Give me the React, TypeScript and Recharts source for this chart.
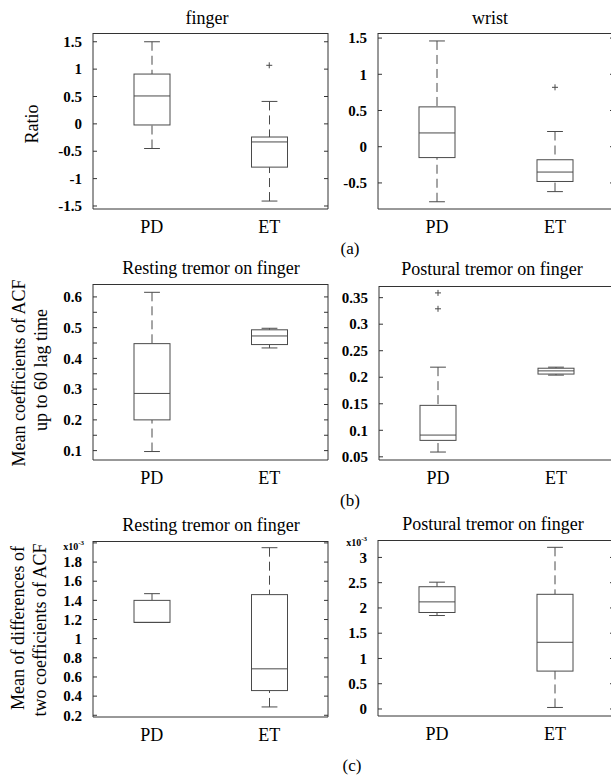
import React from 'react';
import { ComposedChart, Bar, Scatter, XAxis, YAxis } from 'recharts';

const categories = ['PD', 'ET'];

// (a) Ratio – finger
const fingerMin = [-0.45, -1.41];
const fingerQ1 = [-0.02, -0.79];
const fingerMedian = [0.51, -0.33];
const fingerQ3 = [0.91, -0.24];
const fingerMax = [1.5, 0.41];
const fingerOutliers = [{ cat: 'ET', value: 1.07 }];
const fingerTicks = [-1.5, -1, -0.5, 0, 0.5, 1, 1.5];

// (a) Ratio – wrist
const wristMin = [-0.76, -0.62];
const wristQ1 = [-0.15, -0.48];
const wristMedian = [0.19, -0.35];
const wristQ3 = [0.55, -0.18];
const wristMax = [1.46, 0.21];
const wristOutliers = [{ cat: 'ET', value: 0.82 }];
const wristTicks = [-0.5, 0, 0.5, 1, 1.5];

// (b) Mean coefficients of ACF – resting
const acfRestMin = [0.097, 0.434];
const acfRestQ1 = [0.2, 0.445];
const acfRestMedian = [0.286, 0.473];
const acfRestQ3 = [0.448, 0.493];
const acfRestMax = [0.615, 0.498];
const acfRestOutliers: { cat: string; value: number }[] = [];
const acfRestTicks = [0.1, 0.15, 0.2, 0.25, 0.3, 0.35, 0.4, 0.45, 0.5, 0.55, 0.6];
const acfRestLabels = [0.1, 0.2, 0.3, 0.4, 0.5, 0.6];

// (b) Mean coefficients of ACF – postural
const acfPostMin = [0.059, 0.204];
const acfPostQ1 = [0.081, 0.206];
const acfPostMedian = [0.091, 0.212];
const acfPostQ3 = [0.147, 0.217];
const acfPostMax = [0.219, 0.219];
const acfPostOutliers = [
  { cat: 'PD', value: 0.359 },
  { cat: 'PD', value: 0.329 },
];
const acfPostTicks = [0.05, 0.1, 0.15, 0.2, 0.25, 0.3, 0.35];

// (c) Mean of differences (x10^-3) – resting
const diffRestMin = [1.17, 0.287];
const diffRestQ1 = [1.17, 0.458];
const diffRestMedian = [1.17, 0.685];
const diffRestQ3 = [1.4, 1.46];
const diffRestMax = [1.47, 1.95];
const diffRestOutliers: { cat: string; value: number }[] = [];
const diffRestTicks = [0.2, 0.4, 0.6, 0.8, 1, 1.2, 1.4, 1.6, 1.8, 2];
const diffRestLabels = [0.2, 0.4, 0.6, 0.8, 1, 1.2, 1.4, 1.6, 1.8];

// (c) Mean of differences (x10^-3) – postural
const diffPostMin = [1.85, 0.03];
const diffPostQ1 = [1.91, 0.75];
const diffPostMedian = [2.12, 1.32];
const diffPostQ3 = [2.42, 2.27];
const diffPostMax = [2.51, 3.2];
const diffPostOutliers: { cat: string; value: number }[] = [];
const diffPostTicks = [0, 0.5, 1, 1.5, 2, 2.5, 3];

type BoxRow = { cat: string; min: number; q1: number; median: number; q3: number; max: number };

function makeBoxes(mn: number[], q1: number[], md: number[], q3: number[], mx: number[]): BoxRow[] {
  return categories.map((cat, i) => ({ cat, min: mn[i], q1: q1[i], median: md[i], q3: q3[i], max: mx[i] }));
}

const SERIF = "'Liberation Serif', 'Times New Roman', Times, 'DejaVu Serif', serif";
const BOX_COLOR = '#4a4a4a';
const FRAME_COLOR = '#333';

const BoxShape = (props: any) => {
  const { x, y, width, height, payload } = props;
  if (!payload) return null;
  const top = Math.min(y, y + height);
  const bottom = Math.max(y, y + height);
  const span = payload.max - payload.min;
  const py = (v: number) => bottom - ((v - payload.min) / span) * (bottom - top);
  const cx = x + width / 2;
  const cap = width * 0.22;
  const yMax = py(payload.max);
  const yQ3 = py(payload.q3);
  const yMed = py(payload.median);
  const yQ1 = py(payload.q1);
  const yMin = py(payload.min);
  return (
    <g stroke={BOX_COLOR} strokeWidth={1} fill="none">
      <line x1={cx} x2={cx} y1={yMax} y2={yQ3} strokeDasharray="9 5" />
      <line x1={cx} x2={cx} y1={yMin} y2={yQ1} strokeDasharray="9 5" />
      <line x1={cx - cap} x2={cx + cap} y1={yMax} y2={yMax} />
      <line x1={cx - cap} x2={cx + cap} y1={yMin} y2={yMin} />
      <rect x={x} y={yQ3} width={width} height={Math.max(0, yQ1 - yQ3)} fill="#fff" />
      <line x1={x} x2={x + width} y1={yMed} y2={yMed} />
    </g>
  );
};

const Plus = (props: any) => {
  const { cx, cy } = props;
  if (cx == null || cy == null) return null;
  return (
    <g stroke={BOX_COLOR} strokeWidth={1}>
      <line x1={cx - 3} x2={cx + 3} y1={cy} y2={cy} />
      <line x1={cx} x2={cx} y1={cy - 3} y2={cy + 3} />
    </g>
  );
};

const CatTick = (props: any) => {
  const { x, y, payload } = props;
  return (
    <text x={x} y={y} dy="0.72em" textAnchor="middle" fontFamily={SERIF} fontSize={18} fill="#000">
      {payload.value}
    </text>
  );
};

type PanelProps = {
  plotLeft: number;
  plotTop: number;
  plotW: number;
  plotH: number;
  domain: [number, number];
  ticks: number[];
  labels: number[];
  boxes: BoxRow[];
  outliers: { cat: string; value: number }[];
};

const Y_W = 60;
const X_H = 34;
const M = 2;

const Panel = ({ plotLeft, plotTop, plotW, plotH, domain, ticks, labels, boxes, outliers }: PanelProps) => {
  const width = M + Y_W + plotW + 1 + M;
  const height = M + plotH + X_H;
  const fmt = (v: number) => (labels.some((l) => Math.abs(l - v) < 1e-9) ? String(v) : '');
  const ValTick = (p: any) => (
    <text
      x={p.x}
      y={p.y}
      dy="0.35em"
      textAnchor="end"
      fontFamily={SERIF}
      fontSize={15}
      fontWeight={700}
      fill="#000"
    >
      {fmt(p.payload.value)}
    </text>
  );
  return (
    <>
      <div style={{ position: 'absolute', left: plotLeft - Y_W - M, top: plotTop - M }}>
        <ComposedChart width={width} height={height} data={boxes} margin={{ top: M, right: M, left: M, bottom: 0 }}>
          <XAxis
            dataKey="cat"
            type="category"
            allowDuplicatedCategory={false}
            height={X_H}
            tickLine={false}
            tickMargin={5}
            axisLine={{ stroke: FRAME_COLOR }}
            tick={CatTick}
          />
          <YAxis
            type="number"
            domain={domain}
            allowDataOverflow
            ticks={ticks}
            interval={0}
            width={Y_W}
            tickSize={-4}
            tickMargin={15}
            axisLine={{ stroke: FRAME_COLOR }}
            tickLine={{ stroke: FRAME_COLOR }}
            tick={ValTick}
          />
          <YAxis
            yAxisId="r"
            orientation="right"
            type="number"
            domain={domain}
            allowDataOverflow
            ticks={ticks}
            interval={0}
            width={1}
            tickSize={-4}
            tickFormatter={() => ''}
            axisLine={{ stroke: FRAME_COLOR }}
            tickLine={{ stroke: FRAME_COLOR }}
          />
          <Bar
            dataKey={(d: BoxRow) => [d.min, d.max]}
            barSize={36}
            shape={BoxShape}
            isAnimationActive={false}
          />
          <Scatter data={outliers} dataKey="value" shape={Plus} isAnimationActive={false} />
        </ComposedChart>
      </div>
      <div
        style={{
          position: 'absolute',
          left: plotLeft,
          top: plotTop,
          width: plotW,
          height: 1,
          background: FRAME_COLOR,
        }}
      />
    </>
  );
};

const Txt = ({ x, y, size, children, rotate, bold }: any) => (
  <div
    style={{
      position: 'absolute',
      left: x,
      top: y,
      transform: `translate(-50%, -50%)${rotate ? ' rotate(-90deg)' : ''}`,
      fontFamily: SERIF,
      fontSize: size,
      fontWeight: bold ? 'bold' : 'normal',
      whiteSpace: 'nowrap',
      lineHeight: 1,
      color: '#000',
    }}
  >
    {children}
  </div>
);

const Mult = ({ x, y }: { x: number; y: number }) => (
  <div
    style={{
      position: 'absolute',
      left: x,
      top: y,
      transform: 'translate(-100%, -50%)',
      fontFamily: SERIF,
      fontSize: 10,
      fontWeight: 'bold',
      lineHeight: 1,
      whiteSpace: 'nowrap',
    }}
  >
    x10<sup style={{ fontSize: 7 }}>-3</sup>
  </div>
);

export default function App() {
  return (
    <div
      style={{
        position: 'absolute',
        left: 0,
        top: 0,
        width: 611,
        height: 776,
        overflow: 'hidden',
        background: '#fff',
        fontFamily: SERIF,
      }}
    >
      <Panel
        plotLeft={93}
        plotTop={33}
        plotW={235}
        plotH={176}
        domain={[-1.555, 1.66]}
        ticks={fingerTicks}
        labels={fingerTicks}
        boxes={makeBoxes(fingerMin, fingerQ1, fingerMedian, fingerQ3, fingerMax)}
        outliers={fingerOutliers}
      />
      <Panel
        plotLeft={378}
        plotTop={33}
        plotW={236}
        plotH={176}
        domain={[-0.86, 1.57]}
        ticks={wristTicks}
        labels={wristTicks}
        boxes={makeBoxes(wristMin, wristQ1, wristMedian, wristQ3, wristMax)}
        outliers={wristOutliers}
      />
      <Panel
        plotLeft={93}
        plotTop={284}
        plotW={235}
        plotH={176}
        domain={[0.0695, 0.642]}
        ticks={acfRestTicks}
        labels={acfRestLabels}
        boxes={makeBoxes(acfRestMin, acfRestQ1, acfRestMedian, acfRestQ3, acfRestMax)}
        outliers={acfRestOutliers}
      />
      <Panel
        plotLeft={379}
        plotTop={286}
        plotW={236}
        plotH={174}
        domain={[0.044, 0.372]}
        ticks={acfPostTicks}
        labels={acfPostTicks}
        boxes={makeBoxes(acfPostMin, acfPostQ1, acfPostMedian, acfPostQ3, acfPostMax)}
        outliers={acfPostOutliers}
      />
      <Panel
        plotLeft={93}
        plotTop={541}
        plotW={235}
        plotH={176}
        domain={[0.182, 2.02]}
        ticks={diffRestTicks}
        labels={diffRestLabels}
        boxes={makeBoxes(diffRestMin, diffRestQ1, diffRestMedian, diffRestQ3, diffRestMax)}
        outliers={diffRestOutliers}
      />
      <Panel
        plotLeft={378}
        plotTop={540}
        plotW={236}
        plotH={176}
        domain={[-0.139, 3.345]}
        ticks={diffPostTicks}
        labels={diffPostTicks}
        boxes={makeBoxes(diffPostMin, diffPostQ1, diffPostMedian, diffPostQ3, diffPostMax)}
        outliers={diffPostOutliers}
      />

      <Txt x={207} y={18} size={18}>finger</Txt>
      <Txt x={490} y={18} size={18}>wrist</Txt>
      <Txt x={32} y={124} size={18} rotate>Ratio</Txt>
      <Txt x={350} y={248} size={17}>(a)</Txt>

      <Txt x={211} y={268} size={18}>Resting tremor on finger</Txt>
      <Txt x={492} y={269} size={18}>Postural tremor on finger</Txt>
      <Txt x={19} y={373} size={18} rotate>Mean coefficients of ACF</Txt>
      <Txt x={41} y={370} size={18} rotate>up to 60 lag time</Txt>
      <Txt x={350} y={500} size={17}>(b)</Txt>

      <Txt x={211} y={525} size={18}>Resting tremor on finger</Txt>
      <Txt x={493} y={524} size={18}>Postural tremor on finger</Txt>
      <Txt x={18} y={628} size={18} rotate>Mean of differences of</Txt>
      <Txt x={40} y={630} size={18} rotate>two coefficients of ACF</Txt>
      <Mult x={84} y={546} />
      <Mult x={367} y={542} />
      <Txt x={352} y={765} size={17}>(c)</Txt>
    </div>
  );
}
